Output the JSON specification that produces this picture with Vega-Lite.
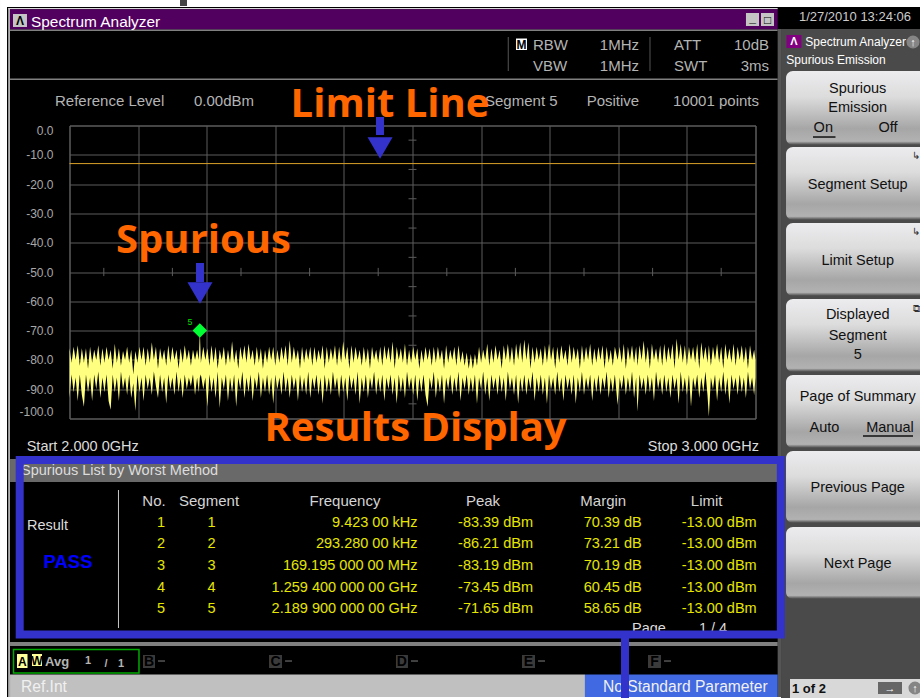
{"$schema":"https://vega.github.io/schema/vega-lite/v6.json","width":686,"height":293,"autosize":{"type":"none"},"padding":{"left":69.5,"top":125.5,"right":164.5,"bottom":279.5},"background":"#000000","view":{"stroke":"#5c5c5c","fill":null},
"config":{"text":{"font":"Liberation Sans","baseline":"middle","dy":0.8},"view":{"stroke":"#5c5c5c"}},
"datasets":{
"chrome":[
{"part":"paper","f":1.8987,"f2":3.2398,"d":42.83,"d2":40.44},
{"part":"paper","f":1.8987,"f2":1.9089,"d":40.44,"d2":-195.4},
{"part":"paper","f":1.9089,"f2":3.0372,"d":-195.06,"d2":-195.4},
{"part":"scrap","f":2.1611,"f2":2.1713,"d":42.83,"d2":40.78},
{"part":"edge","f":1.9108,"f2":1.913,"d":40.1,"d2":-195.06},
{"part":"edge","f":1.9108,"f2":3.0323,"d":40.1,"d2":39.66},
{"part":"titlebar","f":1.9133,"f2":3.0323,"d":39.66,"d2":32.76},
{"part":"rule","f":1.9133,"f2":3.0323,"d":32.76,"d2":32.25},
{"part":"rule","f":1.9133,"f2":3.0323,"d":16.04,"d2":15.53},
{"part":"gutter","f":3.0323,"f2":3.0372,"d":32.93,"d2":-195.06},
{"part":"panel","f":3.0372,"f2":3.2398,"d":32.93,"d2":-195.4},
{"part":"listhead","f":1.9133,"f2":3.0323,"d":-113.83,"d2":-121.67},
{"part":"rule","f":1.9133,"f2":3.0323,"d":-176.29,"d2":-177.65},
{"part":"refbar","f":1.9133,"f2":2.7514,"d":-187.37,"d2":-195.06},
{"part":"stdbar","f":2.7514,"f2":3.0323,"d":-187.37,"d2":-195.06},
{"part":"softkey","f":3.0503,"f2":3.2398,"d":-188.91,"d2":-195.4},
{"part":"chip","f":1.9176,"f2":1.938,"d":38.05,"d2":33.61},
{"part":"chip","f":2.9861,"f2":3.0051,"d":38.39,"d2":33.96},
{"part":"chip","f":3.008,"f2":3.027,"d":38.39,"d2":33.96},
{"part":"paper","f":2.6509,"f2":2.6669,"d":29.69,"d2":25.77},
{"part":"appicon","f":3.0451,"f2":3.067,"d":30.88,"d2":26.45},
{"part":"activetrace","f":1.9235,"f2":1.9388,"d":-180.38,"d2":-185.16},
{"part":"activetrace","f":1.9453,"f2":1.9599,"d":-180.38,"d2":-184.48},
{"part":"idletrace","f":2.1071,"f2":2.1246,"d":-180.72,"d2":-185.16},
{"part":"idletrace","f":2.2908,"f2":2.3098,"d":-180.72,"d2":-185.16},
{"part":"idletrace","f":2.4759,"f2":2.4934,"d":-180.72,"d2":-185.16},
{"part":"idletrace","f":2.6596,"f2":2.6786,"d":-180.72,"d2":-185.16},
{"part":"idletrace","f":2.8433,"f2":2.8622,"d":-180.72,"d2":-185.16},
{"part":"navkey","f":3.1786,"f2":3.2136,"d":-189.93,"d2":-194.03}
],
"keys":[
{"f":3.0445,"f2":3.2398,"d":18.6,"d2":-6.66},
{"f":3.0445,"f2":3.2398,"d":-7.34,"d2":-32.26},
{"f":3.0445,"f2":3.2398,"d":-33.28,"d2":-58.19},
{"f":3.0445,"f2":3.2398,"d":-59.22,"d2":-84.13},
{"f":3.0445,"f2":3.2398,"d":-85.16,"d2":-110.07},
{"f":3.0445,"f2":3.2398,"d":-111.1,"d2":-135.67},
{"f":3.0445,"f2":3.2398,"d":-137.03,"d2":-161.61}
],
"trace":[
{"f":2.000,"d":-76,"d2":-93},{"f":2.003,"d":-81,"d2":-85},{"f":2.006,"d":-75.5,"d2":-91},{"f":2.009,"d":-80,"d2":-86},{"f":2.012,"d":-75,"d2":-94},{"f":2.015,"d":-82,"d2":-85},{"f":2.018,"d":-76,"d2":-92},{"f":2.021,"d":-81,"d2":-96},{"f":2.024,"d":-76,"d2":-85},{"f":2.027,"d":-83,"d2":-91},{"f":2.030,"d":-75.5,"d2":-86},{"f":2.033,"d":-81,"d2":-94},{"f":2.036,"d":-76.5,"d2":-85},{"f":2.039,"d":-80,"d2":-90},{"f":2.042,"d":-75,"d2":-84},{"f":2.045,"d":-82,"d2":-93},{"f":2.048,"d":-76,"d2":-86},{"f":2.051,"d":-81,"d2":-91},{"f":2.054,"d":-75.5,"d2":-85},{"f":2.057,"d":-80,"d2":-94},{"f":2.060,"d":-76.5,"d2":-97},{"f":2.063,"d":-83,"d2":-85},{"f":2.066,"d":-74.5,"d2":-91},{"f":2.069,"d":-81,"d2":-86},{"f":2.072,"d":-76,"d2":-94},{"f":2.075,"d":-82,"d2":-84},{"f":2.078,"d":-77,"d2":-90},{"f":2.081,"d":-80,"d2":-86},{"f":2.084,"d":-75.5,"d2":-92},{"f":2.087,"d":-81,"d2":-85},{"f":2.090,"d":-76.5,"d2":-93},{"f":2.093,"d":-85,"d2":-88},{"f":2.096,"d":-77,"d2":-97.4},{"f":2.099,"d":-81,"d2":-85},{"f":2.102,"d":-75.5,"d2":-91},{"f":2.105,"d":-80,"d2":-86},{"f":2.108,"d":-75.5,"d2":-94},{"f":2.111,"d":-82,"d2":-85},{"f":2.114,"d":-76,"d2":-90},{"f":2.117,"d":-81,"d2":-86},{"f":2.120,"d":-74,"d2":-92},{"f":2.123,"d":-80,"d2":-84},{"f":2.126,"d":-75.5,"d2":-89},{"f":2.129,"d":-83,"d2":-93},{"f":2.132,"d":-76,"d2":-85},{"f":2.135,"d":-80,"d2":-91},{"f":2.138,"d":-76.5,"d2":-86},{"f":2.141,"d":-82,"d2":-95},{"f":2.144,"d":-75,"d2":-85},{"f":2.147,"d":-81,"d2":-90},{"f":2.150,"d":-75.5,"d2":-86},{"f":2.153,"d":-80,"d2":-92},{"f":2.156,"d":-76.5,"d2":-84},{"f":2.159,"d":-83,"d2":-91},{"f":2.162,"d":-76,"d2":-86},{"f":2.165,"d":-81,"d2":-93},{"f":2.168,"d":-75,"d2":-85},{"f":2.171,"d":-80,"d2":-90},{"f":2.174,"d":-76.5,"d2":-86},{"f":2.177,"d":-82,"d2":-89},{"f":2.180,"d":-76.5,"d2":-85},{"f":2.183,"d":-80,"d2":-92},{"f":2.186,"d":-76.5,"d2":-86},{"f":2.1885,"d":-80,"d2":-91},{"f":2.19,"d":-70,"d2":-86},{"f":2.1915,"d":-81,"d2":-85},{"f":2.195,"d":-75.5,"d2":-90},{"f":2.198,"d":-80,"d2":-86},{"f":2.201,"d":-76,"d2":-96},{"f":2.204,"d":-82,"d2":-85},{"f":2.207,"d":-75,"d2":-91},{"f":2.210,"d":-81,"d2":-86},{"f":2.213,"d":-75.5,"d2":-93},{"f":2.216,"d":-83,"d2":-84},{"f":2.219,"d":-76.5,"d2":-96.4},{"f":2.222,"d":-80,"d2":-86},{"f":2.225,"d":-75.5,"d2":-90},{"f":2.228,"d":-82,"d2":-85},{"f":2.231,"d":-76.5,"d2":-94},{"f":2.234,"d":-81,"d2":-86},{"f":2.237,"d":-73.6,"d2":-91},{"f":2.240,"d":-81,"d2":-85},{"f":2.243,"d":-76.5,"d2":-96},{"f":2.246,"d":-83,"d2":-86},{"f":2.249,"d":-75.5,"d2":-90},{"f":2.252,"d":-80,"d2":-84},{"f":2.255,"d":-75,"d2":-93},{"f":2.258,"d":-81,"d2":-86},{"f":2.261,"d":-74.5,"d2":-91},{"f":2.264,"d":-80,"d2":-85},{"f":2.267,"d":-76.5,"d2":-94},{"f":2.270,"d":-82,"d2":-86},{"f":2.273,"d":-75.5,"d2":-90},{"f":2.276,"d":-81,"d2":-84},{"f":2.279,"d":-76,"d2":-93},{"f":2.282,"d":-83,"d2":-86},{"f":2.285,"d":-76.5,"d2":-91},{"f":2.288,"d":-81,"d2":-85},{"f":2.291,"d":-75.5,"d2":-92},{"f":2.294,"d":-80,"d2":-86},{"f":2.297,"d":-75.5,"d2":-95},{"f":2.300,"d":-82,"d2":-85},{"f":2.303,"d":-76.5,"d2":-90},{"f":2.306,"d":-81,"d2":-86},{"f":2.309,"d":-75.5,"d2":-92},{"f":2.312,"d":-80,"d2":-84},{"f":2.315,"d":-75,"d2":-91},{"f":2.318,"d":-82,"d2":-86},{"f":2.321,"d":-73.3,"d2":-93},{"f":2.324,"d":-81,"d2":-85},{"f":2.327,"d":-75.5,"d2":-90},{"f":2.330,"d":-80,"d2":-86},{"f":2.333,"d":-76.5,"d2":-94},{"f":2.336,"d":-83,"d2":-85},{"f":2.339,"d":-75.5,"d2":-91},{"f":2.342,"d":-81,"d2":-86},{"f":2.345,"d":-76,"d2":-92},{"f":2.348,"d":-80,"d2":-84},{"f":2.351,"d":-75.5,"d2":-93},{"f":2.354,"d":-82,"d2":-86},{"f":2.357,"d":-75.5,"d2":-90},{"f":2.360,"d":-81,"d2":-85},{"f":2.363,"d":-76.5,"d2":-92},{"f":2.366,"d":-80,"d2":-86},{"f":2.369,"d":-75,"d2":-95},{"f":2.372,"d":-83,"d2":-85},{"f":2.375,"d":-75.5,"d2":-91},{"f":2.378,"d":-81,"d2":-86},{"f":2.381,"d":-76,"d2":-92},{"f":2.384,"d":-80,"d2":-84},{"f":2.387,"d":-75,"d2":-90},{"f":2.390,"d":-82,"d2":-86},{"f":2.393,"d":-75.5,"d2":-93},{"f":2.396,"d":-81,"d2":-85},{"f":2.399,"d":-73.6,"d2":-91},{"f":2.402,"d":-80,"d2":-86},{"f":2.405,"d":-75.5,"d2":-94},{"f":2.408,"d":-83,"d2":-85},{"f":2.411,"d":-75,"d2":-90},{"f":2.414,"d":-81,"d2":-86},{"f":2.417,"d":-75.5,"d2":-92},{"f":2.420,"d":-80,"d2":-84},{"f":2.423,"d":-76.5,"d2":-95},{"f":2.426,"d":-82,"d2":-86},{"f":2.429,"d":-75.5,"d2":-91},{"f":2.432,"d":-81,"d2":-85},{"f":2.435,"d":-76,"d2":-93},{"f":2.438,"d":-83,"d2":-86},{"f":2.441,"d":-75.5,"d2":-90},{"f":2.444,"d":-80,"d2":-84},{"f":2.447,"d":-76.5,"d2":-92},{"f":2.450,"d":-81,"d2":-86},{"f":2.453,"d":-75.5,"d2":-91},{"f":2.456,"d":-82,"d2":-85},{"f":2.459,"d":-75,"d2":-94},{"f":2.462,"d":-80,"d2":-86},{"f":2.465,"d":-75.5,"d2":-90},{"f":2.468,"d":-81,"d2":-85},{"f":2.471,"d":-73.7,"d2":-92},{"f":2.474,"d":-83,"d2":-86},{"f":2.477,"d":-75.5,"d2":-95},{"f":2.480,"d":-80,"d2":-85},{"f":2.483,"d":-76,"d2":-91},{"f":2.486,"d":-81,"d2":-86},{"f":2.489,"d":-74.5,"d2":-93},{"f":2.492,"d":-82,"d2":-84},{"f":2.495,"d":-76.5,"d2":-90},{"f":2.498,"d":-81,"d2":-86},{"f":2.501,"d":-75.5,"d2":-92},{"f":2.504,"d":-80,"d2":-85},{"f":2.507,"d":-76,"d2":-94},{"f":2.510,"d":-83,"d2":-86},{"f":2.513,"d":-76.5,"d2":-91},{"f":2.516,"d":-81,"d2":-85},{"f":2.519,"d":-75.5,"d2":-92},{"f":2.522,"d":-80,"d2":-96},{"f":2.525,"d":-76,"d2":-86},{"f":2.528,"d":-82,"d2":-90},{"f":2.531,"d":-75.5,"d2":-84},{"f":2.534,"d":-81,"d2":-93},{"f":2.537,"d":-75.5,"d2":-86},{"f":2.540,"d":-80,"d2":-91},{"f":2.543,"d":-76.5,"d2":-85},{"f":2.546,"d":-83,"d2":-95},{"f":2.549,"d":-75,"d2":-86},{"f":2.552,"d":-81,"d2":-90},{"f":2.555,"d":-76.5,"d2":-85},{"f":2.558,"d":-80,"d2":-92},{"f":2.561,"d":-75.5,"d2":-86},{"f":2.564,"d":-82,"d2":-91},{"f":2.567,"d":-75,"d2":-84},{"f":2.570,"d":-81,"d2":-94},{"f":2.573,"d":-77,"d2":-86},{"f":2.576,"d":-82,"d2":-90},{"f":2.579,"d":-77.5,"d2":-85},{"f":2.582,"d":-83,"d2":-92},{"f":2.585,"d":-78,"d2":-86},{"f":2.588,"d":-83,"d2":-91},{"f":2.591,"d":-78,"d2":-85},{"f":2.594,"d":-82,"d2":-95},{"f":2.597,"d":-75.5,"d2":-86},{"f":2.600,"d":-81,"d2":-90},{"f":2.603,"d":-76.5,"d2":-84},{"f":2.606,"d":-80,"d2":-92},{"f":2.609,"d":-74.5,"d2":-86},{"f":2.612,"d":-82,"d2":-94},{"f":2.615,"d":-76,"d2":-85},{"f":2.618,"d":-81,"d2":-90},{"f":2.621,"d":-75,"d2":-86},{"f":2.624,"d":-80,"d2":-92},{"f":2.627,"d":-76.5,"d2":-85},{"f":2.630,"d":-83,"d2":-91},{"f":2.633,"d":-75,"d2":-86},{"f":2.636,"d":-80,"d2":-94},{"f":2.639,"d":-74.5,"d2":-84},{"f":2.642,"d":-81,"d2":-90},{"f":2.645,"d":-75.5,"d2":-86},{"f":2.648,"d":-82,"d2":-92},{"f":2.651,"d":-74.5,"d2":-85},{"f":2.654,"d":-80,"d2":-95},{"f":2.657,"d":-74,"d2":-86},{"f":2.660,"d":-81,"d2":-91},{"f":2.663,"d":-73,"d2":-85},{"f":2.666,"d":-80,"d2":-92},{"f":2.669,"d":-74,"d2":-86},{"f":2.672,"d":-83,"d2":-90},{"f":2.675,"d":-75.5,"d2":-84},{"f":2.678,"d":-81,"d2":-94},{"f":2.681,"d":-75.5,"d2":-86},{"f":2.684,"d":-80,"d2":-91},{"f":2.687,"d":-76,"d2":-85},{"f":2.690,"d":-82,"d2":-92},{"f":2.693,"d":-75,"d2":-86},{"f":2.696,"d":-81,"d2":-95},{"f":2.699,"d":-74.5,"d2":-85},{"f":2.702,"d":-80,"d2":-90},{"f":2.705,"d":-75.5,"d2":-86},{"f":2.708,"d":-83,"d2":-92},{"f":2.711,"d":-75.5,"d2":-84},{"f":2.714,"d":-81,"d2":-91},{"f":2.717,"d":-75,"d2":-86},{"f":2.720,"d":-80,"d2":-94},{"f":2.723,"d":-76.5,"d2":-85},{"f":2.726,"d":-82,"d2":-90},{"f":2.729,"d":-74.5,"d2":-86},{"f":2.732,"d":-81,"d2":-92},{"f":2.735,"d":-75.5,"d2":-85},{"f":2.738,"d":-80,"d2":-95},{"f":2.741,"d":-76,"d2":-86},{"f":2.744,"d":-83,"d2":-91},{"f":2.747,"d":-75,"d2":-84},{"f":2.750,"d":-81,"d2":-92},{"f":2.753,"d":-75.5,"d2":-86},{"f":2.756,"d":-80,"d2":-90},{"f":2.759,"d":-74.5,"d2":-85},{"f":2.762,"d":-82,"d2":-94},{"f":2.765,"d":-76,"d2":-86},{"f":2.768,"d":-81,"d2":-91},{"f":2.771,"d":-75.5,"d2":-85},{"f":2.774,"d":-80,"d2":-92},{"f":2.777,"d":-75,"d2":-86},{"f":2.780,"d":-83,"d2":-90},{"f":2.783,"d":-75.5,"d2":-84},{"f":2.786,"d":-81,"d2":-93},{"f":2.789,"d":-76.5,"d2":-86},{"f":2.792,"d":-82,"d2":-91},{"f":2.795,"d":-75.5,"d2":-85},{"f":2.799,"d":-80,"d2":-95.4},{"f":2.802,"d":-75.5,"d2":-86},{"f":2.805,"d":-81,"d2":-90},{"f":2.808,"d":-74.5,"d2":-85},{"f":2.811,"d":-83,"d2":-92},{"f":2.814,"d":-75.5,"d2":-86},{"f":2.817,"d":-80,"d2":-91},{"f":2.820,"d":-75,"d2":-84},{"f":2.823,"d":-81,"d2":-93},{"f":2.826,"d":-75.5,"d2":-86},{"f":2.828,"d":-82,"d2":-97.7},{"f":2.831,"d":-75,"d2":-85},{"f":2.834,"d":-80,"d2":-90},{"f":2.837,"d":-73.5,"d2":-86},{"f":2.840,"d":-81,"d2":-92},{"f":2.843,"d":-75.5,"d2":-85},{"f":2.846,"d":-83,"d2":-91},{"f":2.849,"d":-74.5,"d2":-86},{"f":2.852,"d":-80,"d2":-94},{"f":2.855,"d":-76,"d2":-84},{"f":2.858,"d":-81,"d2":-90},{"f":2.861,"d":-75,"d2":-86},{"f":2.864,"d":-82,"d2":-92},{"f":2.867,"d":-74.5,"d2":-85},{"f":2.870,"d":-81,"d2":-91},{"f":2.873,"d":-75.5,"d2":-86},{"f":2.876,"d":-80,"d2":-93},{"f":2.879,"d":-74.5,"d2":-85},{"f":2.882,"d":-83,"d2":-90},{"f":2.885,"d":-72.7,"d2":-86},{"f":2.888,"d":-80,"d2":-95},{"f":2.891,"d":-74.5,"d2":-84},{"f":2.894,"d":-81,"d2":-91},{"f":2.897,"d":-75,"d2":-86},{"f":2.900,"d":-82,"d2":-92},{"f":2.903,"d":-75.5,"d2":-85},{"f":2.906,"d":-80,"d2":-96},{"f":2.909,"d":-75.5,"d2":-86},{"f":2.912,"d":-81,"d2":-90},{"f":2.915,"d":-74.5,"d2":-85},{"f":2.918,"d":-83,"d2":-93},{"f":2.921,"d":-74,"d2":-86},{"f":2.924,"d":-80,"d2":-91},{"f":2.927,"d":-75.5,"d2":-84},{"f":2.930,"d":-81,"d2":-92},{"f":2.932,"d":-75,"d2":-99.4},{"f":2.935,"d":-82,"d2":-86},{"f":2.938,"d":-75.5,"d2":-90},{"f":2.941,"d":-80,"d2":-85},{"f":2.944,"d":-74.5,"d2":-94},{"f":2.947,"d":-81,"d2":-86},{"f":2.950,"d":-75.5,"d2":-91},{"f":2.953,"d":-83,"d2":-84},{"f":2.956,"d":-74.5,"d2":-92},{"f":2.959,"d":-80,"d2":-86},{"f":2.962,"d":-76,"d2":-95},{"f":2.965,"d":-81,"d2":-85},{"f":2.968,"d":-74.5,"d2":-90},{"f":2.971,"d":-82,"d2":-86},{"f":2.974,"d":-75.5,"d2":-92},{"f":2.977,"d":-80,"d2":-85},{"f":2.980,"d":-75,"d2":-91},{"f":2.983,"d":-81,"d2":-86},{"f":2.986,"d":-75.5,"d2":-93},{"f":2.989,"d":-83,"d2":-84},{"f":2.992,"d":-75,"d2":-90},{"f":2.995,"d":-80,"d2":-86},{"f":2.998,"d":-76.5,"d2":-92},{"f":3.000,"d":-80,"d2":-86}
]},
"encoding":{
"x":{"field":"f","type":"quantitative","title":null,"scale":{"domain":[2,3],"nice":false,"zero":false},"axis":{"values":[2,2.1,2.2,2.3,2.4,2.5,2.6,2.7,2.8,2.9,3],"labels":false,"ticks":false,"domain":false,"title":null,"grid":true,"gridColor":"#5c5c5c","gridWidth":1}},
"y":{"field":"d","type":"quantitative","title":null,"stack":null,"scale":{"domain":[-100,0],"nice":false,"zero":false},"axis":{"values":[-100,-90,-80,-70,-60,-50,-40,-30,-20,-10,0],"ticks":false,"domain":false,"title":null,"grid":true,"gridColor":"#5c5c5c","gridWidth":1,"labelColor":"#a8a8a8","labelFont":"Liberation Sans","labelFontSize":12,"labelPadding":16.5,"labelFlush":true,"labelOverlap":false,"labelExpr":"replace(format(datum.value,'.1f'),'−','-')"}}
},
"layer":[
{"data":{"name":"chrome"},"mark":{"type":"rect"},"encoding":{"x2":{"field":"f2"},"y2":{"field":"d2"},"color":{"field":"part","type":"nominal","legend":null,"scale":{"domain":["paper","scrap","edge","titlebar","rule","gutter","panel","listhead","refbar","stdbar","softkey","chip","appicon","activetrace","idletrace","navkey"],"range":["#ffffff","#444444","#d8d8d8","#520060","#808080","#555555","#4a4a4a","#696969","#c0c0c0","#4169e1","#d8d8d8","#c4c4c4","#800080","#ffff99","#3a3a3a","#666666"]}}}},
{"data":{"name":"keys"},"mark":{"type":"rect","cornerRadiusTopLeft":7,"cornerRadiusBottomLeft":7,"fill":{"gradient":"linear","x1":0,"y1":0,"x2":0,"y2":1,"stops":[{"offset":0,"color":"#ececef"},{"offset":0.35,"color":"#dcdcdc"},{"offset":0.78,"color":"#a6a6a6"},{"offset":0.95,"color":"#b2b2b2"},{"offset":1,"color":"#444444"}]}},"encoding":{"x2":{"field":"f2"},"y2":{"field":"d2"}}},
{"data":{"values":[{"f":2.4942,"f2":2.5058,"d":-5},{"f":2.4942,"f2":2.5058,"d":-15},{"f":2.4942,"f2":2.5058,"d":-25},{"f":2.4942,"f2":2.5058,"d":-35},{"f":2.4942,"f2":2.5058,"d":-45},{"f":2.4942,"f2":2.5058,"d":-55},{"f":2.4942,"f2":2.5058,"d":-65},{"f":2.4942,"f2":2.5058,"d":-75},{"f":2.4942,"f2":2.5058,"d":-85},{"f":2.4942,"f2":2.5058,"d":-95}]},"mark":{"type":"rule","color":"#5c5c5c"},"encoding":{"x2":{"field":"f2"}}},
{"data":{"values":[{"f":2.05,"d":-48.6,"d2":-51.4},{"f":2.15,"d":-48.6,"d2":-51.4},{"f":2.25,"d":-48.6,"d2":-51.4},{"f":2.35,"d":-48.6,"d2":-51.4},{"f":2.45,"d":-48.6,"d2":-51.4},{"f":2.55,"d":-48.6,"d2":-51.4},{"f":2.65,"d":-48.6,"d2":-51.4},{"f":2.75,"d":-48.6,"d2":-51.4},{"f":2.85,"d":-48.6,"d2":-51.4},{"f":2.95,"d":-48.6,"d2":-51.4}]},"mark":{"type":"rule","color":"#5c5c5c"},"encoding":{"y2":{"field":"d2"}}},
{"data":{"values":[{"f":2,"f2":3,"d":-13}]},"mark":{"type":"rule","color":"#d8a028"},"encoding":{"x2":{"field":"f2"}}},
{"data":{"name":"trace"},"mark":{"type":"area","orient":"vertical","color":"#ffff80","interpolate":"linear"},"encoding":{"y2":{"field":"d2"}}},
{"data":{"values":[{"f":2.19,"d":-70}]},"mark":{"type":"point","shape":"diamond","filled":true,"opacity":1,"color":"#00ff33","size":210}},
{"data":{"values":[{"f":2.6396,"d":30.2,"d2":18.6},{"f":2.8462,"d":30.2,"d2":18.6}]},"mark":{"type":"rule","color":"#555555"},"encoding":{"y2":{"field":"d2"}}},
{"data":{"values":[{"f":2.0714,"d":-124.41,"d2":-171.51}]},"mark":{"type":"rule","color":"#c8c8c8"},"encoding":{"y2":{"field":"d2"}}},
{"data":{"values":[{"f":3.0838,"f2":3.1166,"d":-3.93},{"f":3.1567,"f2":3.2296,"d":-105.98}]},"mark":{"type":"rule","color":"#111111","strokeWidth":1.5},"encoding":{"x2":{"field":"f2"}}},
{"data":{"values":[{"f":2.129,"f2":2.1392,"d":-182.77},{"f":2.3142,"f2":2.3244,"d":-182.77},{"f":2.4978,"f2":2.508,"d":-182.77},{"f":2.683,"f2":2.6932,"d":-182.77},{"f":2.8666,"f2":2.8768,"d":-182.77}]},"mark":{"type":"rule","color":"#555555","strokeWidth":1.5},"encoding":{"x2":{"field":"f2"}}},
{"data":{"values":[{"f":1.9184,"f2":2.1013,"d":-178.85,"d2":-186.87}]},"mark":{"type":"rect","fill":null,"stroke":"#00aa00","strokeWidth":1.5},"encoding":{"x2":{"field":"f2"},"y2":{"field":"d2"}}},
{"data":{"values":[{"f":3.2296,"d":28.5},{"f":3.2325,"d":-191.98}]},"mark":{"type":"point","shape":"circle","filled":true,"opacity":1,"color":"#858585","size":170}},
{"data":{"values":[{"t":"Spectrum Analyzer","f":1.9439,"d":35.66}]},"mark":{"type":"text","align":"left","fontSize":15.4,"color":"#ffffff"},"encoding":{"text":{"field":"t"}}},
{"data":{"values":[{"t":"RBW","f":2.6757,"d":27.81},{"t":"VBW","f":2.6757,"d":20.65},{"t":"ATT","f":2.8812,"d":27.81},{"t":"SWT","f":2.8812,"d":20.65},{"t":"Reference Level","f":1.9789,"d":8.7},{"t":"0.00dBm","f":2.1815,"d":8.7},{"t":"Segment 5","f":2.6057,"d":8.7},{"t":"Positive","f":2.7539,"d":8.7}]},"mark":{"type":"text","align":"left","fontSize":15,"color":"#b4b4b4"},"encoding":{"text":{"field":"t"}}},
{"data":{"values":[{"t":"1MHz","f":2.8302,"d":27.81},{"t":"1MHz","f":2.8302,"d":20.65},{"t":"10dB","f":3.0197,"d":27.81},{"t":"3ms","f":3.0197,"d":20.65},{"t":"10001 points","f":3.0051,"d":8.7}]},"mark":{"type":"text","align":"right","fontSize":15,"color":"#b4b4b4"},"encoding":{"text":{"field":"t"}}},
{"data":{"values":[{"t":"No.","f":2.1232,"d":-127.82},{"t":"Segment","f":2.2034,"d":-127.82},{"t":"Frequency","f":2.4016,"d":-127.82},{"t":"Peak","f":2.6028,"d":-127.82},{"t":"Margin","f":2.7781,"d":-127.82},{"t":"Limit","f":2.9288,"d":-127.82}]},"mark":{"type":"text","align":"center","fontSize":15,"color":"#d4d4d4"},"encoding":{"text":{"field":"t"}}},
{"data":{"values":[{"t":"1","f":2.1334,"d":-135.23},{"t":"1","f":2.207,"d":-135.23},{"t":"2","f":2.1334,"d":-142.5},{"t":"2","f":2.207,"d":-142.5},{"t":"3","f":2.1334,"d":-150},{"t":"3","f":2.207,"d":-150},{"t":"4","f":2.1334,"d":-157.41},{"t":"4","f":2.207,"d":-157.41},{"t":"5","f":2.1334,"d":-164.68},{"t":"5","f":2.207,"d":-164.68}]},"mark":{"type":"text","align":"center","fontSize":14.5,"color":"#e6e600"},"encoding":{"text":{"field":"t"}}},
{"data":{"values":[{"t":"9.423 00 kHz","f":2.5073,"d":-135.23},{"t":"-83.39 dBm","f":2.6757,"d":-135.23},{"t":"70.39 dB","f":2.8341,"d":-135.23},{"t":"-13.00 dBm","f":3.0017,"d":-135.23},{"t":"293.280 00 kHz","f":2.5073,"d":-142.5},{"t":"-86.21 dBm","f":2.6757,"d":-142.5},{"t":"73.21 dB","f":2.8341,"d":-142.5},{"t":"-13.00 dBm","f":3.0017,"d":-142.5},{"t":"169.195 000 00 MHz","f":2.5073,"d":-150},{"t":"-83.19 dBm","f":2.6757,"d":-150},{"t":"70.19 dB","f":2.8341,"d":-150},{"t":"-13.00 dBm","f":3.0017,"d":-150},{"t":"1.259 400 000 00 GHz","f":2.5073,"d":-157.41},{"t":"-73.45 dBm","f":2.6757,"d":-157.41},{"t":"60.45 dB","f":2.8341,"d":-157.41},{"t":"-13.00 dBm","f":3.0017,"d":-157.41},{"t":"2.189 900 000 00 GHz","f":2.5073,"d":-164.68},{"t":"-71.65 dBm","f":2.6757,"d":-164.68},{"t":"58.65 dB","f":2.8341,"d":-164.68},{"t":"-13.00 dBm","f":3.0017,"d":-164.68}]},"mark":{"type":"text","align":"right","fontSize":14.5,"color":"#e6e600"},"encoding":{"text":{"field":"t"}}},
{"data":{"values":[{"t":"Result","f":1.938,"d":-136.35},{"t":"Spurious List by Worst Method","f":1.9293,"d":-117.58},{"t":"Start 2.000 0GHz","f":1.9376,"d":-109.29},{"t":"Page","f":2.82,"d":-171.51},{"t":"1  /  4","f":2.9176,"d":-171.51}]},"mark":{"type":"text","align":"left","fontSize":14.5,"color":"#dcdcdc"},"encoding":{"text":{"field":"t"}}},
{"data":{"values":[{"t":"Ref.Int","f":1.9293,"d":-191.2},{"t":"No Standard Parameter","f":2.7777,"d":-191.2}]},"mark":{"type":"text","align":"left","fontSize":15.6,"color":"#f0f0f0"},"encoding":{"text":{"field":"t"}}},
{"data":{"values":[{"t":"Stop 3.000 0GHz","f":3.0051,"d":-109.29}]},"mark":{"type":"text","align":"right","fontSize":14.5,"color":"#dcdcdc"},"encoding":{"text":{"field":"t"}}},
{"data":{"values":[{"t":"PASS","f":1.9978,"d":-148.64}]},"mark":{"type":"text","align":"center","fontSize":18.5,"fontWeight":"bold","color":"#0000ff"},"encoding":{"text":{"field":"t"}}},
{"data":{"values":[{"t":"5","f":2.1757,"d":-66.73}]},"mark":{"type":"text","align":"center","fontSize":9,"color":"#00dd00"},"encoding":{"text":{"field":"t"}}},
{"data":{"values":[{"t":"Spurious","f":3.149,"d":12.8},{"t":"Emission","f":3.149,"d":6.31},{"t":"Segment Setup","f":3.149,"d":-19.97},{"t":"Limit Setup","f":3.149,"d":-45.91},{"t":"Displayed","f":3.149,"d":-64.51},{"t":"Segment","f":3.149,"d":-71.5},{"t":"5","f":3.149,"d":-77.99},{"t":"Page of Summary","f":3.149,"d":-92.33},{"t":"Previous Page","f":3.149,"d":-123.39},{"t":"Next Page","f":3.149,"d":-149.32},{"t":"On","f":3.0988,"d":-0.52},{"t":"Off","f":3.1931,"d":-0.52},{"t":"Auto","f":3.1006,"d":-102.91},{"t":"Manual","f":3.196,"d":-102.91}]},"mark":{"type":"text","align":"center","fontSize":14.5,"color":"#111111"},"encoding":{"text":{"field":"t"}}},
{"data":{"values":[{"t":"1 of 2","f":3.0532,"d":-191.98}]},"mark":{"type":"text","align":"left","fontSize":13,"fontWeight":"bold","color":"#111111"},"encoding":{"text":{"field":"t"}}},
{"data":{"values":[{"t":"Spectrum Analyzer","f":3.0726,"d":28.67},{"t":"Spurious Emission","f":3.0449,"d":22.52}]},"mark":{"type":"text","align":"left","fontSize":12,"color":"#ffffff"},"encoding":{"text":{"field":"t"}}},
{"data":{"values":[{"t":"1/27/2010 13:24:06","f":3.145,"d":37.37}]},"mark":{"type":"text","align":"center","fontSize":13,"color":"#cccccc"},"encoding":{"text":{"field":"t"}}},
{"data":{"values":[{"t":"Λ","f":1.9278,"d":35.83},{"t":"_","f":2.9956,"d":37},{"t":"□","f":3.0175,"d":36.17},{"t":"M","f":2.6589,"d":27.73},{"t":"A","f":1.9311,"d":-182.77},{"t":"W","f":1.9526,"d":-182.5}]},"mark":{"type":"text","align":"center","fontSize":12,"fontWeight":"bold","color":"#000000"},"encoding":{"text":{"field":"t"}}},
{"data":{"values":[{"t":"B","f":2.1159,"d":-182.9},{"t":"C","f":2.3003,"d":-182.9},{"t":"D","f":2.4846,"d":-182.9},{"t":"E","f":2.6691,"d":-182.9},{"t":"F","f":2.8527,"d":-182.9}]},"mark":{"type":"text","align":"center","fontSize":14,"fontWeight":"bold","color":"#000000"},"encoding":{"text":{"field":"t"}}},
{"data":{"values":[{"t":"Avg","f":1.9643,"d":-182.77}]},"mark":{"type":"text","align":"left","fontSize":13,"fontWeight":"bold","color":"#b4b4b4"},"encoding":{"text":{"field":"t"}}},
{"data":{"values":[{"t":"1","f":2.027,"d":-182.4},{"t":"/","f":2.0532,"d":-183.4},{"t":"1","f":2.0751,"d":-183.4}]},"mark":{"type":"text","align":"center","fontSize":11,"fontWeight":"bold","color":"#b4b4b4"},"encoding":{"text":{"field":"t"}}},
{"data":{"values":[{"t":"↑","f":3.2296,"d":28.5},{"t":"→","f":3.1961,"d":-191.98},{"t":"↑","f":3.2325,"d":-191.98},{"t":"Λ","f":3.056,"d":28.67}]},"mark":{"type":"text","align":"center","fontSize":11,"fontWeight":"bold","color":"#ffffff"},"encoding":{"text":{"field":"t"}}},
{"data":{"values":[{"t":"↳","f":3.234,"d":-10.07},{"t":"↳","f":3.234,"d":-36.01},{"t":"⧉","f":3.234,"d":-62.29}]},"mark":{"type":"text","align":"center","fontSize":10,"color":"#333333"},"encoding":{"text":{"field":"t"}}},
{"data":{"values":[{"t":"Limit Line","f":2.4672,"d":2.9},{"t":"Spurious","f":2.1953,"d":-43.52},{"t":"Results Display","f":2.5044,"d":-107.68}]},"mark":{"type":"text","align":"center","baseline":"alphabetic","dy":0,"font":"Open Sans","fontSize":40,"fontWeight":"bold","color":"#ff6600"},"encoding":{"text":{"field":"t"}}},
{"data":{"values":[{"f":2.4468,"f2":2.4585,"d":2.9,"d2":-3.24},{"f":2.1844,"f2":2.1961,"d":-46.93,"d2":-53.41},{"f":2.8039,"f2":2.8156,"d":-174.92,"d2":-195.4}]},"mark":{"type":"rect","color":"#3333cc"},"encoding":{"x2":{"field":"f2"},"y2":{"field":"d2"}}},
{"data":{"values":[{"f":2.4527,"d":-7.68},{"f":2.1902,"d":-57.17}]},"mark":{"type":"point","shape":"triangle-down","filled":true,"opacity":1,"color":"#3333cc","size":625}},
{"data":{"values":[{"f":1.9274,"f2":3.0369,"d":-114.17,"d2":-173.73}]},"mark":{"type":"rect","fill":null,"stroke":"#3333cc","strokeWidth":8},"encoding":{"x2":{"field":"f2"},"y2":{"field":"d2"}}}
]}
